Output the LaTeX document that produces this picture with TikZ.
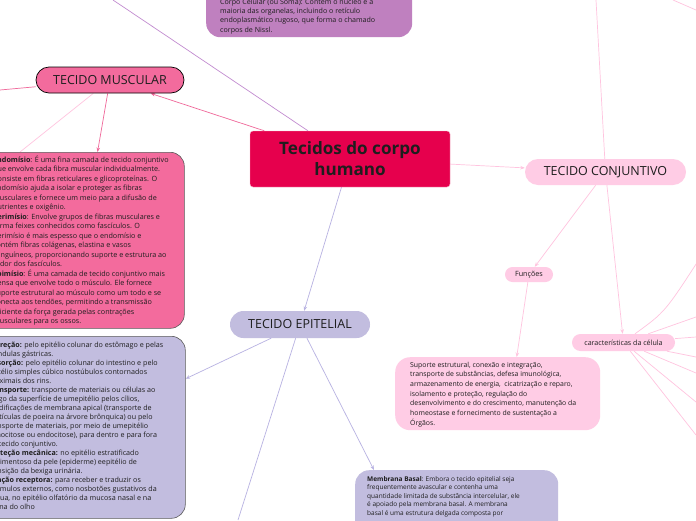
\documentclass[tikz,border=0pt]{standalone}
\usepackage{fontspec}
\setmainfont{Open Sans}
\usetikzlibrary{arrows.meta}
\definecolor{muscpink}{HTML}{F36B9D}
\definecolor{crimson}{HTML}{E6004D}
\definecolor{lightpink}{HTML}{FFCCE5}
\definecolor{lav}{HTML}{C2BDDF}
\definecolor{purp}{HTML}{BF80BF}
\definecolor{lpline}{HTML}{FFC4DF}
\definecolor{lavline}{HTML}{B8B2E2}
\definecolor{pinkline}{HTML}{F0689A}
\definecolor{purpline}{HTML}{C28CD0}
\definecolor{txtc}{HTML}{1E1E1E}
\definecolor{boxedge}{HTML}{5A5A5A}
\pgfdeclarelayer{back}
\pgfdeclarelayer{bg}
\pgfsetlayers{back,bg,main}
\begin{document}
\begin{tikzpicture}[x=1pt,y=-1pt,
  pill/.style={rectangle, rounded corners=13pt, inner sep=0pt, text=txtc, font=\fontsize{12.5}{14}\selectfont},
  smallpill/.style={rectangle, rounded corners=7.5pt, inner sep=0pt, text=txtc, fill=lightpink},
  bigbox/.style={rectangle, rounded corners=14pt, inner sep=0pt, anchor=north west},
  body/.style={anchor=north west, inner sep=0pt, align=left, text=txtc},
  conn/.style={line width=0.7pt},
  arr/.style={-{Stealth[length=4.5pt,width=3.5pt]}}]
\begin{pgfonlayer}{back}
\path[use as bounding box, fill=white] (0,0) rectangle (696,520);
\end{pgfonlayer}
\clip (0,0) rectangle (696,520);

% ---------- boxes ----------
\node[bigbox, fill=purp, minimum width=206pt, minimum height=77pt] (topbox) at (206,-40) {};
\node[bigbox, fill=muscpink, draw=boxedge, line width=0.6pt, minimum width=204pt, minimum height=176pt] (pinkbox) at (-20,152) {};
\node[bigbox, fill=lav, draw=boxedge, line width=0.6pt, minimum width=205pt, minimum height=182pt] (lavbox) at (-20,336) {};
\node[bigbox, rounded corners=15pt, fill=lightpink, minimum width=205pt, minimum height=73pt] (supbox) at (395,357) {};
\node[bigbox, fill=lav, minimum width=203pt, minimum height=326pt] (membbox) at (355,470) {};

% ---------- topic nodes ----------
\node[rectangle, rounded corners=3pt, fill=crimson, draw=pinkline!50, line width=0.4pt,
      minimum width=200pt, minimum height=56pt, inner sep=0pt, align=center, text=txtc,
      font=\fontsize{17.1}{21}\selectfont\bfseries] (center) at (350,159) {Tecidos do corpo\\humano};
\node[pill, fill=muscpink, draw=black, line width=0.7pt, minimum width=148pt, minimum height=26pt] (musc) at (110,80) {TECIDO MUSCULAR};
\node[pill, fill=lightpink, minimum width=161pt, minimum height=26pt] (conj) at (605.5,172) {TECIDO CONJUNTIVO};
\node[pill, fill=lav, rounded corners=13.5pt, minimum width=140pt, minimum height=27pt] (epi) at (300,324.5) {TECIDO EPITELIAL};
\node[smallpill, minimum width=48pt, minimum height=15pt, font=\fontsize{7.2}{8}\selectfont] (func) at (529,274.5) {Funções};
\node[smallpill, rounded corners=8.5pt, minimum width=103pt, minimum height=17pt, font=\fontsize{7.1}{8}\selectfont] (car) at (623.5,342.5) {características da célula};

% ---------- texts ----------
\node[body, font=\fontsize{7.1}{9.3}\selectfont] (toptext) at (220,-2.5) {\strut Corpo Celular (ou Soma): Contém o núcleo e a\\
maioria das organelas, incluindo o retículo\\
endoplasmático rugoso, que forma o chamado\\
corpos de Nissl.};

\node[body, font=\fontsize{7.2}{9.5}\selectfont] (pinktext) at (-7,155.4) {\strut\textbf{Endomísio}: É uma fina camada de tecido conjuntivo\\
que envolve cada fibra muscular individualmente.\\
Consiste em fibras reticulares e glicoproteínas. O\\
endomísio ajuda a isolar e proteger as fibras\\
musculares e fornece um meio para a difusão de\\
nutrientes e oxigênio.\\
\textbf{Perimísio}: Envolve grupos de fibras musculares e\\
forma feixes conhecidos como fascículos. O\\
perimísio é mais espesso que o endomísio e\\
contém fibras colágenas, elastina e vasos\\
sanguíneos, proporcionando suporte e estrutura ao\\
redor dos fascículos.\\
\textbf{Epimísio}: É uma camada de tecido conjuntivo mais\\
densa que envolve todo o músculo. Ele fornece\\
suporte estrutural ao músculo como um todo e se\\
conecta aos tendões, permitindo a transmissão\\
eficiente da força gerada pelas contrações\\
musculares para os ossos.};

\node[body, font=\fontsize{7.15}{9.0}\selectfont] (lavtext) at (-12,340.7) {\strut\textbf{Secreção:} pelo epitélio colunar do estômago e pelas\\
glândulas gástricas.\\
\textbf{Absorção:} pelo epitélio colunar do intestino e pelo\\
epitélio simples cúbico nostúbulos contornados\\
proximais dos rins.\\
\textbf{Transporte:} transporte de materiais ou células ao\\
longo da superfície de umepitélio pelos cílios,\\
modificações de membrana apical (transporte de\\
partículas de poeira na árvore brônquica) ou pelo\\
transporte de materiais, por meio de umepitélio\\
(pinocitose ou endocitose), para dentro e para fora\\
do tecido conjuntivo.\\
\textbf{Proteção mecânica:} no epitélio estratificado\\
pavimentoso da pele (epiderme) eepitélio de\\
transição da bexiga urinária.\\
\textbf{Função receptora:} para receber e traduzir os\\
estímulos externos, como nosbotões gustativos da\\
língua, no epitélio olfatório da mucosa nasal e na\\
retina do olho};

\node[body, font=\fontsize{6.9}{9.7}\selectfont] (suptext) at (410,360.2) {\strut Suporte estrutural, conexão e integração,\\
transporte de substâncias, defesa imunológica,\\
armazenamento de energia,\ \ cicatrização e reparo,\\
isolamento e proteção, regulação do\\
desenvolvimento e do crescimento, manutenção da\\
homeostase e fornecimento de sustentação a\\
Órgãos.};

\node[body, font=\fontsize{6.5}{8.5}\selectfont] (membtext) at (367,475.3) {\strut\textbf{Membrana Basal}: Embora o tecido epitelial seja\\
frequentemente avascular e contenha uma\\
quantidade limitada de substância intercelular, ele\\
é apoiado pela membrana basal. A membrana\\
basal é uma estrutura delgada composta por};

% ---------- free ends ----------
\coordinate (offTL) at (113,0);
\coordinate (offL) at (0,90);
\coordinate (muscHid) at (20,152);
\coordinate (offB) at (238,520);
\coordinate (offT) at (596,0);
\coordinate (offTR1) at (673,0);
\coordinate (offTR2) at (696,10);
\coordinate (r1) at (700,258);
\coordinate (r2) at (696,317);
\coordinate (r3) at (696,337);
\coordinate (r4) at (696,357);
\coordinate (r5) at (696,373);
\coordinate (r6) at (696,402);
\coordinate (r7) at (696,435);

% ---------- connectors ----------
\begin{pgfonlayer}{bg}
\draw[conn, purpline] (center) -- (offTL);
\draw[conn, pinkline, arr] (center) -- (musc);
\draw[conn, pinkline] (musc) -- (offL);
\draw[conn, lpline] (musc) -- (muscHid);
\draw[conn, pinkline, arr] (musc) -- (pinkbox);
\draw[conn, lpline, arr] (center) -- (conj);
\draw[conn, lavline, arr] (center) -- (epi);
\draw[conn, lavline, arr] (epi) -- (lavbox);
\draw[conn, lavline] (epi) -- (offB);
\draw[conn, lavline, arr] (epi) -- (membbox);
\draw[conn, lpline] (conj) -- (offT);
\draw[conn, lpline, arr] (conj) -- (car);
\draw[conn, lpline, arr] (conj) -- (func);
\draw[conn, lpline, arr] (func) -- ([xshift=19pt]supbox.north);
\draw[conn, lpline] (offTR1) -- (offTR2);
\draw[conn, lpline] ([xshift=11.5pt]car.north) .. controls (665,312) .. (r1);
\draw[conn, lpline] (car) -- (r2);
\draw[conn, lpline] (car) -- (r3);
\draw[conn, lpline] (car) -- (r4);
\draw[conn, lpline] (car) -- (r5);
\draw[conn, lpline] (car) -- (r6);
\draw[conn, lpline] (car) -- (r7);
\end{pgfonlayer}
\end{tikzpicture}
\end{document}
